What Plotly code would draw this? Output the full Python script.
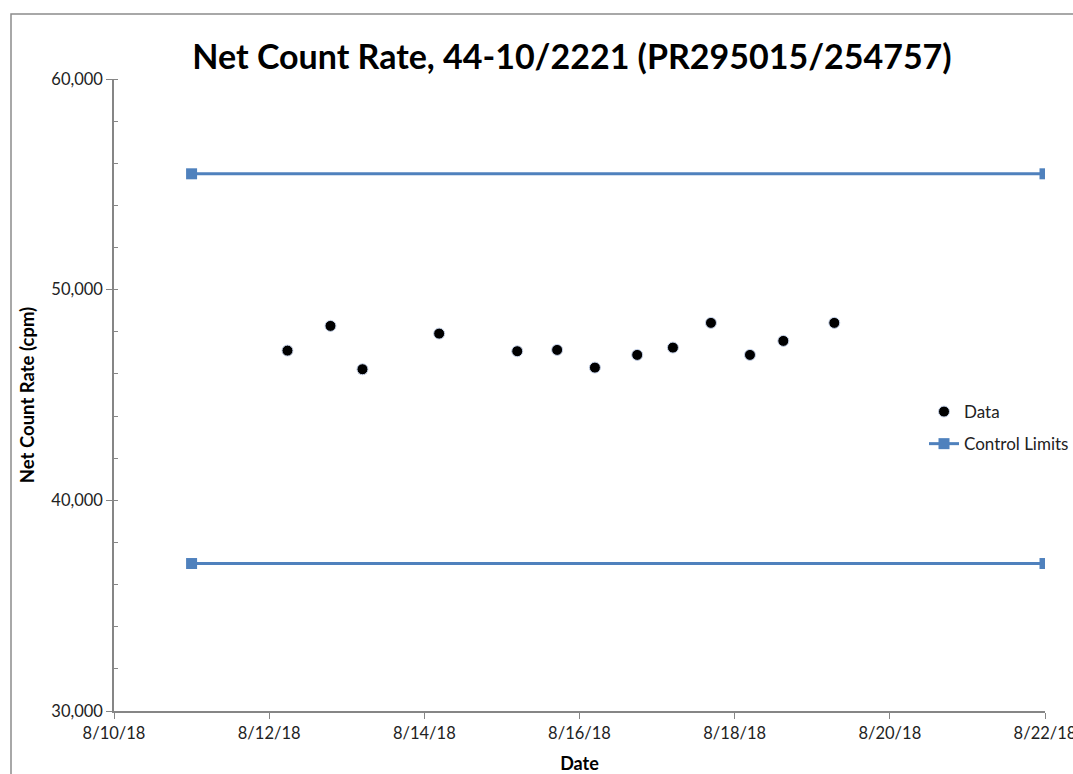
import plotly.graph_objects as go

# Data
dates = ["2018-08-12 05:40", "2018-08-12 18:58", "2018-08-13 04:52", "2018-08-14 04:35",
         "2018-08-15 04:44", "2018-08-15 17:05", "2018-08-16 04:46", "2018-08-16 17:51",
         "2018-08-17 04:54", "2018-08-17 16:40", "2018-08-18 04:44", "2018-08-18 15:03",
         "2018-08-19 06:49"]
net_rate = [47107, 48280, 46223, 47914, 47078, 47140, 46300, 46903,
            47250, 48423, 46903, 47568, 48423]

limit_dates = ["2018-08-11", "2018-08-22", None, "2018-08-11", "2018-08-22"]
limit_values = [55500, 55500, None, 37000, 37000]

x_range = ["2018-08-10", "2018-08-22"]
y_range = [30000, 60000]

FONT = "Lato"
BLUE = "#4F81BD"

fig = go.Figure()
fig.add_trace(go.Scatter(
    x=dates, y=net_rate, mode="markers", name="Data", legendgroup="d",
    marker=dict(color="black", size=11, line=dict(color="#c8d4ea", width=1)),
))
fig.add_trace(go.Scatter(
    x=limit_dates, y=limit_values, mode="lines+markers", name="Control Limits", legendgroup="c",
    line=dict(color=BLUE, width=3),
    marker=dict(symbol="square", size=11, color=BLUE),
    connectgaps=False,
))

W, H = 1073, 774
ml, mr, mt, mb = 114, 28, 79, 63
pw, ph = W - ml - mr, H - mt - mb

fig.update_layout(
    width=W, height=H,
    margin=dict(l=ml, r=mr, t=mt, b=mb, autoexpand=False),
    paper_bgcolor="white", plot_bgcolor="white",
    font=dict(family=FONT, size=16.5, color="#222"),
    title=dict(text="<b>Net Count Rate, 44-10/2221 (PR295015/254757)</b>",
               x=(572 - ml) / pw, xref="paper", xanchor="center",
               y=1 - 57 / H, yanchor="middle",
               font=dict(family=FONT, size=34, color="black")),
    showlegend=True,
    legend=dict(x=(924 - ml) / pw, y=1 - (394 - mt) / ph, xanchor="left", yanchor="top",
                bgcolor="rgba(0,0,0,0)", font=dict(size=17, color="#222"),
                itemwidth=30, tracegroupgap=7),
    xaxis=dict(
        type="date", range=x_range, dtick=2 * 86400000, tick0="2018-08-10",
        tickformat="%-m/%-d/%y", showgrid=False, zeroline=False, automargin=False,
        ticklabeloverflow="allow",
        showline=True, linecolor="#868686", linewidth=1.5,
        ticks="outside", ticklen=6, tickcolor="#868686",
        title=dict(text="<b>Date</b>", font=dict(size=18, color="black"), standoff=17),
    ),
    yaxis=dict(
        range=y_range, dtick=10000, tickformat=",d", showgrid=False, zeroline=False,
        automargin=False,
        showline=True, linecolor="#868686", linewidth=1.5,
        ticks="outside", ticklen=6, tickcolor="#868686",
        minor=dict(dtick=2000, ticks="inside", ticklen=4, tickcolor="#868686"),
        title=dict(text="<b>Net Count Rate (cpm)</b>", font=dict(size=18.5, color="black"), standoff=12),
    ),
)

# Chart border (partially cropped in the reference)
fig.add_shape(type="rect", xref="paper", yref="paper",
              x0=(11 - ml) / pw, x1=(1100 - ml) / pw,
              y0=-(800 - (H - mb)) / ph, y1=1 + (mt - 14) / ph,
              line=dict(color="#8c8c8c", width=1.5), fillcolor="rgba(0,0,0,0)", layer="below")

fig.write_html("out.html", config={"displayModeBar": False},
               post_script="document.body.style.margin='0';document.body.style.overflow='hidden';")
